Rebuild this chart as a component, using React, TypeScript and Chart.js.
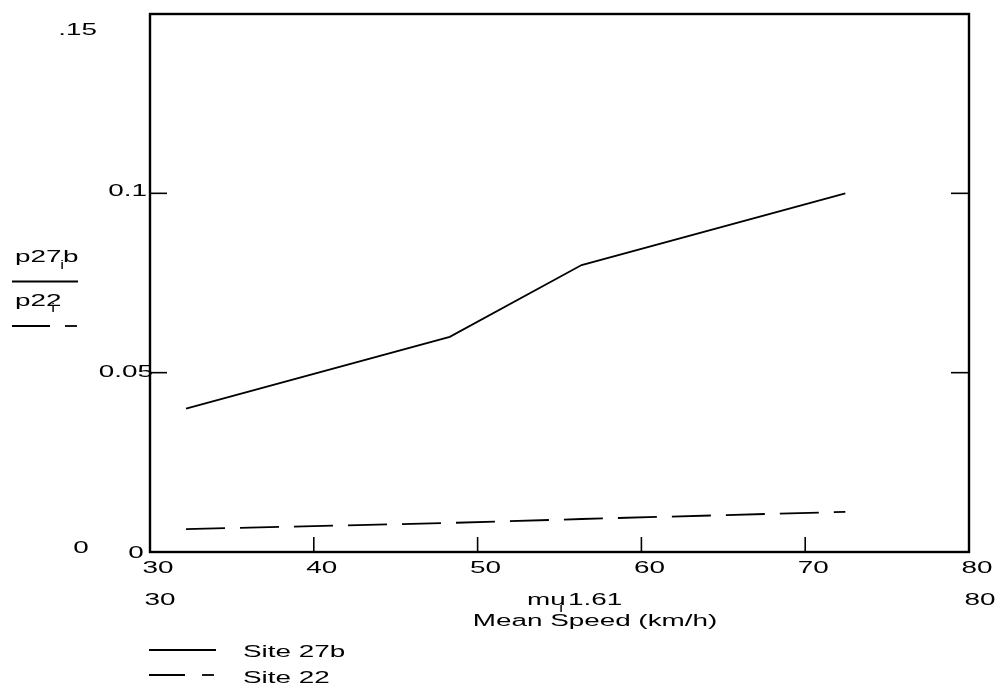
import React, { useEffect, useRef } from "react";
import { Chart, registerables } from "chart.js";

Chart.register(...registerables);

// ---- data ----
const meanSpeedKmh = [32.2, 48.3, 56.35, 72.45];
const site27b = [0.04, 0.06, 0.08, 0.1];
const site22 = [0.0064, 0.0081, 0.0092, 0.0112];

const xTickValues = [30, 40, 50, 60, 70, 80];
const xTickLabels = ["30", "40", "50", "60", "70", "80"];
const yTickValues = [0.15, 0.1, 0.05, 0];
const yTickLabels = [".15", "0.1", "0.05", "0"];
const xLimitLabels = ["30", "80"];
const xAxisExpr = "mu";
const xAxisFactor = "1.61";
const xAxisTitle = "Mean Speed (km/h)";
const seriesNames = ["Site 27b", "Site 22"];
const traceNames = ["p27", "b", "p22"];

const FONT = "16px 'Liberation Sans', Arial, sans-serif";
const SUBFONT = "12px 'Liberation Sans', Arial, sans-serif";
const SX = 1.74;
const DASH = [39, 15];

function txt(ctx: CanvasRenderingContext2D, s: string, x: number, y: number, align: CanvasTextAlign, font = FONT, sx = SX) {
  ctx.save();
  ctx.font = font;
  ctx.fillStyle = "#000";
  ctx.textBaseline = "middle";
  ctx.textAlign = align;
  ctx.translate(x, y);
  ctx.scale(sx, 1);
  ctx.fillText(s, 0, 0);
  ctx.restore();
}

function line(ctx: CanvasRenderingContext2D, x1: number, y1: number, x2: number, y2: number, w: number) {
  ctx.beginPath();
  ctx.lineWidth = w;
  ctx.moveTo(x1, y1);
  ctx.lineTo(x2, y2);
  ctx.stroke();
}

const decor = {
  id: "mathcadDecor",
  afterDraw(chart: any) {
    const ctx: CanvasRenderingContext2D = chart.ctx;
    const xs = chart.scales.x;
    const ys = chart.scales.y;
    const { left, right, top, bottom } = chart.chartArea;
    ctx.save();
    ctx.strokeStyle = "#000";
    ctx.setLineDash([]);
    // frame
    ctx.lineWidth = 2.4;
    ctx.strokeRect(left, top, right - left, bottom - top);
    // x ticks (inside, bottom)
    xTickValues.forEach((v) => {
      const px = xs.getPixelForValue(v);
      if (v > xs.min && v < xs.max) line(ctx, px, bottom, px, bottom - 15, 1.6);
    });
    // y ticks (inside, left and right)
    yTickValues.forEach((v) => {
      const py = ys.getPixelForValue(v);
      if (v > ys.min && v < ys.max) {
        line(ctx, left, py, left + 17, py, 1.6);
        line(ctx, right, py, right - 18, py, 1.6);
      }
    });
    // y labels
    const yLab: Record<string, [number, number, CanvasTextAlign]> = {
      ".15": [97, 17, "right"],
      "0.1": [147, -2, "right"],
      "0.05": [153, 0, "right"],
      "0": [81, -3, "center"],
    };
    yTickValues.forEach((v, i) => {
      const lab = yTickLabels[i];
      const [x, dy, al] = yLab[lab];
      txt(ctx, lab, x, ys.getPixelForValue(v) + dy, al);
    });
    txt(ctx, "0", left - 14, bottom + 2, "center");
    // x labels row 1
    xTickValues.forEach((v, i) => {
      txt(ctx, xTickLabels[i], xs.getPixelForValue(v) + 8, bottom + 17, "center");
    });
    // x row 2 limits
    txt(ctx, xLimitLabels[0], xs.getPixelForValue(xTickValues[0]) + 10, bottom + 49, "center");
    txt(ctx, xLimitLabels[1], xs.getPixelForValue(xTickValues[xTickValues.length - 1]) + 11, bottom + 49, "center");
    // x expression
    txt(ctx, xAxisExpr, 527, bottom + 49, "left");
    txt(ctx, "i", 561, bottom + 57, "center", SUBFONT, 1.4);
    txt(ctx, xAxisFactor, 568, bottom + 49, "left");
    txt(ctx, xAxisTitle, 595, bottom + 70, "center");
    // left trace legend
    txt(ctx, traceNames[0], 15, 258, "left");
    txt(ctx, "i", 62, 266, "center", SUBFONT, 1.4);
    txt(ctx, traceNames[1], 63, 258, "left");
    line(ctx, 12, 281.5, 78, 281.5, 1.8);
    txt(ctx, traceNames[2], 15, 302, "left");
    txt(ctx, "i", 53, 309, "center", SUBFONT, 1.4);
    line(ctx, 12, 326, 50, 326, 1.8);
    line(ctx, 65, 326, 77, 326, 1.8);
    // bottom legend
    line(ctx, 149, 650, 216, 650, 1.8);
    txt(ctx, seriesNames[0], 243, 653, "left");
    line(ctx, 149, 675, 185, 675, 1.8);
    line(ctx, 202, 675, 214, 675, 1.8);
    txt(ctx, seriesNames[1], 243, 679, "left");
    ctx.restore();
  },
};

export default function App() {
  const ref = useRef<HTMLCanvasElement | null>(null);
  useEffect(() => {
    if (!ref.current) return;
    const chart = new Chart(ref.current, {
      type: "line",
      data: {
        datasets: [
          {
            label: seriesNames[0],
            data: meanSpeedKmh.map((x, i) => ({ x, y: site27b[i] })),
            borderColor: "#000",
            borderWidth: 1.8,
            pointRadius: 0,
            tension: 0,
            fill: false,
          },
          {
            label: seriesNames[1],
            data: meanSpeedKmh.map((x, i) => ({ x, y: site22[i] })),
            borderColor: "#000",
            borderWidth: 1.8,
            borderDash: DASH,
            pointRadius: 0,
            tension: 0,
            fill: false,
          },
        ],
      },
      options: {
        animation: false,
        responsive: true,
        maintainAspectRatio: false,
        layout: { padding: { left: 150, right: 33, top: 14, bottom: 138 } },
        plugins: { legend: { display: false }, tooltip: { enabled: false } },
        scales: {
          x: { type: "linear", min: 30, max: 80, display: false },
          y: { type: "linear", min: 0, max: 0.15, display: false },
        },
      },
      plugins: [decor],
    });
    return () => chart.destroy();
  }, []);
  return (
    <div style={{ position: "fixed", left: 0, top: 0, width: 1002, height: 690, background: "#fff" }}>
      <canvas ref={ref} />
    </div>
  );
}
